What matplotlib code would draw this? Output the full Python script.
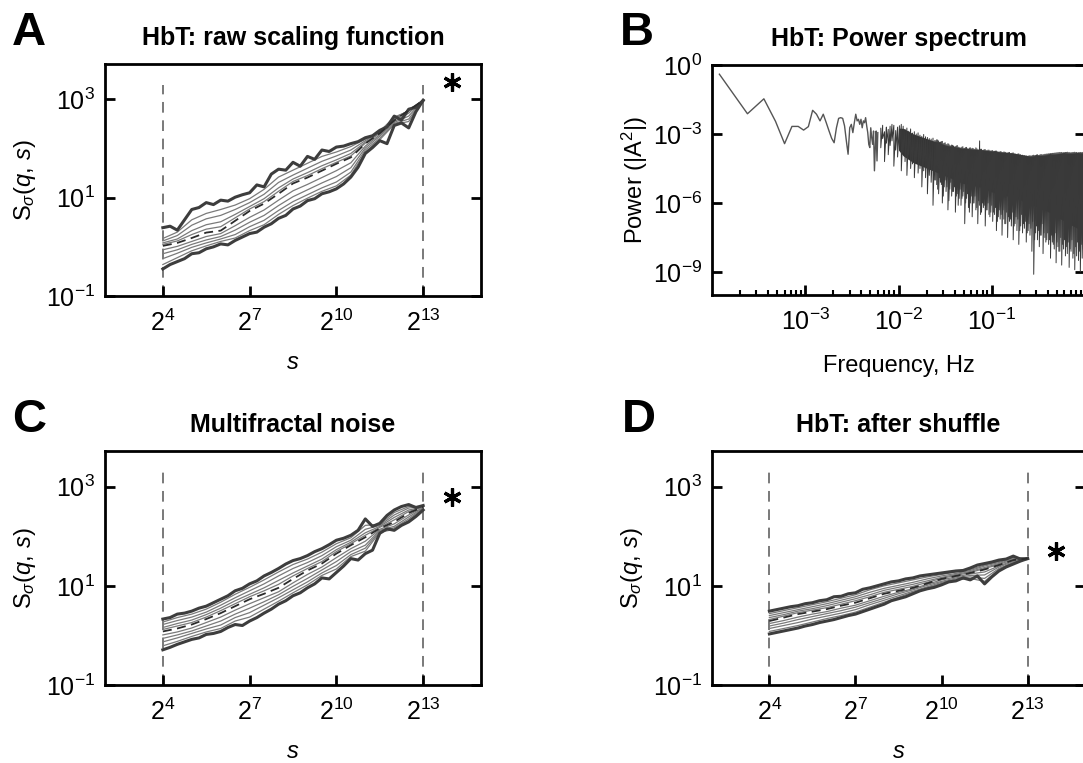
import numpy as np
import matplotlib.pyplot as plt
from matplotlib.ticker import NullLocator, FixedLocator

plt.rcParams['font.family'] = ['Liberation Sans', 'DejaVu Sans']
plt.rcParams['mathtext.fontset'] = 'custom'
plt.rcParams['mathtext.rm'] = 'Liberation Sans'
plt.rcParams['mathtext.it'] = 'Liberation Sans:italic'
plt.rcParams['mathtext.bf'] = 'Liberation Sans:bold'

# ---- scaling functions: s = 2**exp, values are log10 S(q, s) ----
# outer curves (q = +5 / -5) read at quarter-octave steps
fine_exp = [4, 4.25, 4.5, 4.75, 5, 5.25, 5.5, 5.75, 6, 6.25, 6.5, 6.75, 7, 7.25, 7.5, 7.75,
            8, 8.25, 8.5, 8.75, 9, 9.25, 9.5, 9.75, 10, 10.25, 10.5, 10.75, 11, 11.25,
            11.5, 11.75, 12, 12.25, 12.5, 12.75, 13]
# inner curves (q = 4 ... -4) read at half-octave steps
scale_exp = [4, 4.5, 5, 5.5, 6, 6.5, 7, 7.5, 8, 8.5, 9, 9.5, 10, 10.5, 11, 11.5, 12, 12.5, 13]
inner_q = [4, 3, 2, 1, 0, -1, -2, -3, -4]

raw_top = [0.39, 0.42, 0.34, 0.55, 0.76, 0.80, 0.90, 0.86, 0.95, 0.93, 1.01, 1.06, 1.10, 1.26,
           1.22, 1.48, 1.58, 1.56, 1.72, 1.64, 1.84, 1.78, 1.97, 1.94, 2.03, 2.05, 2.10, 2.14,
           2.22, 2.26, 2.37, 2.44, 2.66, 2.58, 2.80, 2.84, 2.98]
raw_bottom = [-0.45, -0.36, -0.30, -0.24, -0.14, -0.12, -0.04, 0.00, 0.06, 0.04, 0.13, 0.20, 0.27,
              0.30, 0.40, 0.47, 0.58, 0.64, 0.77, 0.83, 0.94, 0.98, 1.08, 1.12, 1.18, 1.28, 1.42,
              1.62, 1.90, 2.02, 2.16, 2.10, 2.47, 2.52, 2.42, 2.75, 2.98]
raw_inner = [
    [0.17, 0.30, 0.55, 0.68, 0.76, 0.85, 0.98, 1.17, 1.42, 1.56, 1.70, 1.84, 1.93, 2.04, 2.19, 2.35, 2.64, 2.76, 2.98],
    [0.12, 0.23, 0.44, 0.57, 0.64, 0.76, 0.90, 1.07, 1.31, 1.46, 1.60, 1.74, 1.85, 1.97, 2.16, 2.34, 2.62, 2.77, 2.98],
    [0.08, 0.16, 0.33, 0.45, 0.51, 0.66, 0.82, 0.98, 1.20, 1.38, 1.51, 1.65, 1.77, 1.90, 2.13, 2.32, 2.60, 2.77, 2.98],
    [0.05, 0.12, 0.25, 0.36, 0.41, 0.59, 0.77, 0.92, 1.13, 1.33, 1.45, 1.59, 1.72, 1.85, 2.11, 2.31, 2.58, 2.78, 2.98],
    [0.02, 0.08, 0.18, 0.29, 0.33, 0.53, 0.73, 0.88, 1.08, 1.29, 1.41, 1.55, 1.69, 1.82, 2.10, 2.31, 2.57, 2.78, 2.98],
    [-0.06, 0.01, 0.11, 0.21, 0.27, 0.43, 0.60, 0.75, 0.95, 1.14, 1.27, 1.41, 1.55, 1.71, 2.05, 2.28, 2.55, 2.72, 2.98],
    [-0.14, -0.06, 0.05, 0.14, 0.21, 0.34, 0.50, 0.64, 0.84, 1.02, 1.16, 1.30, 1.43, 1.61, 2.01, 2.25, 2.53, 2.66, 2.98],
    [-0.24, -0.13, -0.01, 0.08, 0.16, 0.25, 0.41, 0.54, 0.74, 0.92, 1.06, 1.20, 1.32, 1.52, 1.97, 2.21, 2.51, 2.60, 2.98],
    [-0.36, -0.22, -0.08, 0.02, 0.11, 0.18, 0.33, 0.45, 0.66, 0.84, 0.99, 1.13, 1.24, 1.46, 1.93, 2.18, 2.49, 2.55, 2.98],
]

noise_top = [0.33, 0.36, 0.43, 0.45, 0.49, 0.55, 0.59, 0.66, 0.73, 0.80, 0.90, 0.95, 1.04, 1.10,
             1.20, 1.27, 1.35, 1.44, 1.51, 1.55, 1.61, 1.69, 1.75, 1.83, 1.92, 1.96, 2.02, 2.12,
             2.35, 2.20, 2.26, 2.42, 2.53, 2.60, 2.64, 2.58, 2.62]
noise_bottom = [-0.29, -0.24, -0.18, -0.13, -0.08, -0.05, 0.02, 0.04, 0.08, 0.16, 0.22, 0.20, 0.29,
                0.36, 0.45, 0.53, 0.63, 0.70, 0.80, 0.86, 0.96, 1.04, 1.16, 1.14, 1.27, 1.40, 1.55,
                1.52, 1.65, 1.72, 2.06, 2.15, 2.12, 2.22, 2.29, 2.40, 2.53]
noise_inner = [
    [0.27, 0.36, 0.43, 0.53, 0.67, 0.83, 0.97, 1.12, 1.28, 1.43, 1.54, 1.68, 1.85, 1.97, 2.22, 2.24, 2.48, 2.60, 2.60],
    [0.22, 0.30, 0.37, 0.47, 0.61, 0.76, 0.90, 1.04, 1.20, 1.35, 1.47, 1.61, 1.79, 1.92, 2.14, 2.22, 2.43, 2.57, 2.60],
    [0.16, 0.24, 0.31, 0.42, 0.55, 0.70, 0.83, 0.96, 1.11, 1.26, 1.40, 1.54, 1.73, 1.88, 2.07, 2.20, 2.38, 2.53, 2.59],
    [0.12, 0.19, 0.26, 0.37, 0.50, 0.64, 0.78, 0.90, 1.03, 1.20, 1.35, 1.49, 1.69, 1.85, 2.02, 2.18, 2.33, 2.50, 2.59],
    [0.08, 0.14, 0.22, 0.33, 0.45, 0.59, 0.73, 0.84, 0.96, 1.14, 1.31, 1.45, 1.65, 1.82, 1.98, 2.16, 2.29, 2.47, 2.59],
    [0.01, 0.07, 0.15, 0.26, 0.37, 0.51, 0.64, 0.76, 0.88, 1.06, 1.23, 1.38, 1.57, 1.75, 1.90, 2.14, 2.25, 2.43, 2.58],
    [-0.06, 0.01, 0.09, 0.19, 0.29, 0.43, 0.55, 0.68, 0.82, 0.99, 1.15, 1.32, 1.49, 1.69, 1.82, 2.12, 2.20, 2.39, 2.57],
    [-0.13, -0.05, 0.04, 0.13, 0.21, 0.36, 0.46, 0.61, 0.76, 0.92, 1.08, 1.26, 1.41, 1.63, 1.76, 2.10, 2.17, 2.35, 2.56],
    [-0.21, -0.12, -0.02, 0.07, 0.14, 0.29, 0.37, 0.53, 0.69, 0.86, 1.02, 1.21, 1.34, 1.59, 1.70, 2.08, 2.14, 2.32, 2.55],
]

shuffle_top = [0.49, 0.52, 0.55, 0.58, 0.60, 0.64, 0.66, 0.70, 0.72, 0.78, 0.79, 0.84, 0.86, 0.93,
               0.96, 1.00, 1.04, 1.08, 1.10, 1.14, 1.16, 1.20, 1.22, 1.24, 1.26, 1.28, 1.30, 1.31,
               1.36, 1.42, 1.45, 1.48, 1.52, 1.54, 1.60, 1.54, 1.55]
shuffle_bottom = [0.03, 0.06, 0.09, 0.12, 0.15, 0.19, 0.22, 0.26, 0.29, 0.32, 0.36, 0.40, 0.43, 0.48,
                  0.53, 0.58, 0.63, 0.70, 0.74, 0.78, 0.84, 0.90, 0.94, 0.97, 1.02, 1.08, 1.10, 1.16,
                  1.12, 1.20, 1.04, 1.18, 1.30, 1.38, 1.44, 1.50, 1.55]
shuffle_inner = [
    [0.44, 0.50, 0.56, 0.62, 0.68, 0.75, 0.82, 0.92, 1.00, 1.06, 1.12, 1.18, 1.23, 1.28, 1.33, 1.42, 1.49, 1.58, 1.55],
    [0.40, 0.46, 0.52, 0.58, 0.64, 0.71, 0.78, 0.87, 0.95, 1.01, 1.07, 1.14, 1.20, 1.25, 1.31, 1.40, 1.47, 1.57, 1.55],
    [0.36, 0.42, 0.49, 0.54, 0.60, 0.67, 0.74, 0.82, 0.91, 0.97, 1.03, 1.10, 1.17, 1.23, 1.29, 1.37, 1.45, 1.55, 1.55],
    [0.32, 0.39, 0.46, 0.51, 0.56, 0.63, 0.70, 0.78, 0.87, 0.93, 0.99, 1.07, 1.15, 1.21, 1.27, 1.35, 1.43, 1.53, 1.55],
    [0.29, 0.36, 0.43, 0.48, 0.53, 0.60, 0.66, 0.75, 0.84, 0.90, 0.96, 1.05, 1.14, 1.20, 1.26, 1.33, 1.42, 1.52, 1.55],
    [0.24, 0.30, 0.37, 0.43, 0.48, 0.55, 0.61, 0.70, 0.79, 0.87, 0.94, 1.03, 1.12, 1.18, 1.24, 1.28, 1.40, 1.51, 1.55],
    [0.19, 0.25, 0.32, 0.38, 0.44, 0.50, 0.57, 0.66, 0.75, 0.84, 0.92, 1.01, 1.09, 1.16, 1.21, 1.22, 1.38, 1.49, 1.55],
    [0.14, 0.20, 0.26, 0.33, 0.39, 0.45, 0.52, 0.62, 0.71, 0.80, 0.89, 0.98, 1.07, 1.14, 1.18, 1.15, 1.35, 1.47, 1.55],
    [0.08, 0.14, 0.20, 0.27, 0.34, 0.40, 0.47, 0.57, 0.67, 0.77, 0.87, 0.96, 1.05, 1.12, 1.15, 1.09, 1.33, 1.46, 1.55],
]

# significance asterisks (s, S)
star_raw = (2**14, 10**3.35)
star_noise = (2**14, 10**2.8)
star_shuffle = (2**14, 10**1.71)

# ---- power spectrum ----
df = 1.2e-4  # frequency resolution, Hz
low_bins = list(range(1, 51))
low_logP = [-0.40, -2.12, -1.47, -2.45, -3.42, -2.67, -2.67, -2.83, -2.68, -1.97,
            -2.14, -2.43, -2.14, -2.51, -2.87, -3.19, -3.38, -2.73, -2.32, -2.29,
            -2.32, -2.65, -3.30, -3.88, -2.73, -2.58, -2.94, -2.51, -2.14, -2.43,
            -2.36, -2.58, -2.36, -2.73, -2.43, -2.51, -2.29, -2.65, -2.94, -3.45,
            -3.59, -2.73, -3.16, -3.45, -2.87, -4.60, -3.59, -2.87, -4.17, -2.94]

spike_logf = [-2.19, -2.17, -2.15, -2.13, -2.11, -2.09, -2.07, -2.05, -2.03, -2.01,
              -1.99, -1.97, -1.95, -1.93, -1.91, -1.89, -1.87, -1.85, -1.83, -1.81,
              -1.79, -1.77, -1.75, -1.73, -1.71, -1.69, -1.67, -1.65, -1.63, -1.61,
              -1.59, -1.57, -1.55, -1.53, -1.51, -1.49, -1.47, -1.45, -1.43, -1.41,
              -1.39, -1.37, -1.35, -1.33, -1.31, -1.29, -1.27, -1.25, -1.23, -1.21,
              -1.19, -1.17, -1.15, -1.13, -1.11, -1.09, -1.07, -1.05, -1.03, -1.01,
              -0.99, -0.97, -0.95, -0.93, -0.91, -0.89, -0.87, -0.85, -0.83, -0.81,
              -0.79, -0.77, -0.75, -0.73, -0.71, -0.69, -0.67, -0.65, -0.63, -0.61,
              -0.59, -0.57, -0.55, -0.53, -0.51, -0.49, -0.47, -0.45, -0.43, -0.41,
              -0.39, -0.37, -0.35, -0.33, -0.31, -0.29, -0.27, -0.25, -0.23, -0.21,
              -0.19, -0.17, -0.15, -0.13, -0.11, -0.09, -0.07, -0.05, -0.03, -0.01]
spike_top = [-2.75, -2.62, -2.90, -2.70, -2.80, -2.66, -2.58, -2.62, -2.85, -2.70,
             -2.64, -2.58, -2.66, -2.80, -2.74, -2.88, -2.78, -2.96, -2.90, -3.00,
             -2.95, -3.05, -3.10, -3.02, -3.12, -3.15, -3.20, -3.22, -3.18, -3.28,
             -3.25, -3.30, -3.35, -3.32, -3.40, -3.45, -3.42, -3.50, -3.48, -3.52,
             -3.55, -3.50, -3.58, -3.60, -3.55, -3.62, -3.58, -3.65, -3.60, -3.62,
             -3.66, -3.60, -3.68, -3.30, -3.66, -3.70, -3.68, -3.72, -3.70, -3.74,
             -3.72, -3.75, -3.74, -3.78, -3.76, -3.80, -3.78, -3.80, -3.82, -3.80,
             -3.84, -3.82, -3.86, -3.88, -3.86, -3.90, -3.92, -3.94, -3.95, -3.96,
             -3.94, -3.95, -3.92, -3.93, -3.90, -3.92, -3.89, -3.90, -3.88, -3.87,
             -3.86, -3.85, -3.84, -3.83, -3.82, -3.81, -3.80, -3.80, -3.81, -3.80,
             -3.79, -3.80, -3.81, -3.80, -3.79, -3.80, -3.81, -3.80, -3.80, -3.79]
spike_bottom = [-3.6, -3.2, -4.2, -3.4, -3.9, -3.5, -3.3, -4.4, -3.7, -4.0,
                -3.5, -4.6, -3.8, -4.2, -4.8, -3.9, -4.5, -4.3, -4.9, -4.2,
                -4.7, -4.5, -5.3, -4.6, -4.9, -5.6, -4.8, -5.1, -6.1, -5.0,
                -5.2, -5.6, -5.1, -6.0, -5.3, -5.5, -6.3, -5.4, -5.7, -5.5,
                -6.4, -5.6, -5.8, -6.1, -5.7, -6.9, -5.8, -6.2, -6.0, -6.6,
                -6.0, -6.3, -6.9, -6.1, -6.4, -6.2, -7.0, -6.3, -6.5, -6.4,
                -6.8, -6.5, -7.2, -6.6, -6.7, -7.4, -6.7, -6.9, -7.5, -6.8,
                -7.0, -7.6, -6.9, -7.2, -7.8, -7.0, -7.3, -7.1, -7.7, -7.2,
                -7.4, -8.1, -9.1, -7.3, -7.6, -7.9, -7.4, -8.2, -7.5, -7.6,
                -7.8, -8.4, -7.7, -8.0, -8.6, -7.9, -8.1, -8.7, -8.0, -8.3,
                -8.2, -8.8, -8.1, -8.4, -8.9, -8.3, -8.5, -9.0, -8.4, -8.6]

# further bins between the ones above, where the band gets dense
extra_logf = [-1.60, -1.58, -1.56, -1.54, -1.52, -1.50, -1.48, -1.46, -1.44, -1.42,
              -1.40, -1.38, -1.36, -1.34, -1.32, -1.30, -1.28, -1.26, -1.24, -1.22,
              -1.20, -1.18, -1.16, -1.14, -1.12, -1.10, -1.08, -1.06, -1.04, -1.02,
              -1.00, -0.98, -0.96, -0.94, -0.92, -0.90, -0.88, -0.86, -0.84, -0.82,
              -0.80, -0.78, -0.76, -0.74, -0.72, -0.70, -0.68, -0.66, -0.64, -0.62,
              -0.60, -0.58, -0.56, -0.54, -0.52, -0.50, -0.48, -0.46, -0.44, -0.42,
              -0.40, -0.38, -0.36, -0.34, -0.32, -0.30, -0.28, -0.26, -0.24, -0.22,
              -0.20, -0.18, -0.16, -0.14, -0.12, -0.10, -0.08, -0.06, -0.04, -0.02]
extra_top = [-3.30, -3.26, -3.36, -3.33, -3.42, -3.38, -3.47, -3.44, -3.52, -3.49,
             -3.56, -3.52, -3.57, -3.61, -3.57, -3.63, -3.59, -3.64, -3.61, -3.65,
             -3.63, -3.67, -3.64, -3.69, -3.66, -3.71, -3.68, -3.72, -3.70, -3.73,
             -3.73, -3.76, -3.74, -3.77, -3.79, -3.77, -3.81, -3.79, -3.83, -3.81,
             -3.85, -3.83, -3.87, -3.89, -3.87, -3.91, -3.93, -3.95, -3.96, -3.97,
             -3.95, -3.96, -3.93, -3.94, -3.91, -3.93, -3.90, -3.91, -3.89, -3.88,
             -3.87, -3.86, -3.85, -3.84, -3.83, -3.82, -3.81, -3.81, -3.82, -3.81,
             -3.80, -3.81, -3.82, -3.81, -3.80, -3.81, -3.82, -3.81, -3.81, -3.80]
extra_bottom = [-5.0, -5.4, -4.9, -5.2, -5.7, -5.0, -5.3, -5.9, -5.1, -5.5,
                -5.3, -5.7, -6.1, -5.4, -5.8, -5.5, -6.0, -5.6, -6.4, -5.7,
                -6.0, -5.7, -6.2, -5.9, -6.5, -6.0, -6.1, -6.3, -6.0, -6.6,
                -6.1, -6.4, -6.2, -6.8, -6.3, -6.5, -6.3, -6.9, -6.4, -6.6,
                -6.7, -6.4, -7.0, -6.6, -6.7, -7.2, -6.5, -6.9, -6.8, -7.3,
                -6.9, -7.1, -6.8, -7.6, -7.0, -7.2, -7.4, -6.9, -7.3, -7.7,
                -7.3, -7.6, -7.4, -7.8, -7.3, -7.7, -8.1, -7.5, -7.8, -7.6,
                -7.9, -7.7, -8.0, -7.6, -8.2, -7.9, -7.7, -8.1, -7.8, -8.0]

# solid core of the high-frequency band
core_logf = [-2.00, -1.95, -1.84, -1.66, -1.48, -1.31, -1.13, -0.95, -0.77, -0.59, -0.41, -0.24, -0.06, 0.05]
core_top = [-2.75, -2.75, -3.00, -3.25, -3.50, -3.62, -3.68, -3.76, -3.83, -3.96, -3.90, -3.83, -3.82, -3.82]
core_bottom = [-3.70, -3.95, -4.25, -4.55, -4.85, -5.15, -5.30, -5.60, -5.75, -6.05, -6.35, -6.75, -7.15, -7.40]

TICK_FS = 18
LABEL_FS = 17
TITLE_FS = 18


def style_axes(ax):
    for sp in ax.spines.values():
        sp.set_linewidth(2.0)
    ax.tick_params(which='major', direction='in', length=7, width=2.0,
                   labelsize=TICK_FS, right=True, top=False)
    ax.tick_params(axis='y', which='major', pad=7)
    ax.tick_params(axis='x', which='major', pad=10)
    ax.tick_params(which='minor', direction='in', length=3.5, width=1.5,
                   right=False, top=False)


def draw_scaling(ax, top, bottom, inner, star, title):
    s_fine = 2.0 ** np.array(fine_exp)
    s = 2.0 ** np.array(scale_exp)
    for q, logS in zip(inner_q, inner):
        S = 10.0 ** np.array(logS)
        if q == 0:
            ax.plot(s, S, color='#2b2b2b', lw=1.3, dashes=(5, 3), zorder=4)
        else:
            ax.plot(s, S, color='#7a7a7a', lw=0.9, zorder=2)
    for logS in (top, bottom):
        ax.plot(s_fine, 10.0 ** np.array(logS), color='#3d3d3d', lw=2.2, zorder=3)
    ax.vlines([2**4, 2**13], 0.1, 2000, colors='#555555', lw=1.1,
              linestyles=(0, (7, 5)), zorder=1)
    ax.plot([star[0]], [star[1]], marker=(6, 2, 0), ms=13, mew=2.3,
            color='black', ls='none', clip_on=False)

    ax.set_xscale('log', base=2)
    ax.set_yscale('log')
    ax.set_xlim(2**2, 2**15)
    ax.set_ylim(0.1, 10**3.72)
    ax.xaxis.set_major_locator(FixedLocator([2**4, 2**7, 2**10, 2**13]))
    ax.xaxis.set_minor_locator(NullLocator())
    ax.set_xticklabels([r'$2^{4}$', r'$2^{7}$', r'$2^{10}$', r'$2^{13}$'])
    ax.yaxis.set_major_locator(FixedLocator([0.1, 10, 1000]))
    ax.yaxis.set_minor_locator(NullLocator())
    ax.set_yticklabels([r'$10^{-1}$', r'$10^{1}$', r'$10^{3}$'])
    style_axes(ax)
    ax.set_xlabel(r'$s$', fontsize=LABEL_FS, labelpad=11)
    ax.set_ylabel(r'$\mathrm{S}_{\sigma}(q,\,s)$', fontsize=LABEL_FS, labelpad=6)
    ax.set_title(title, fontsize=TITLE_FS, fontweight='bold', pad=14)


fig = plt.figure(figsize=(10.83, 7.63), dpi=100)
W, H = 1083.0, 763.0


def add_axes(left, top, right, bottom):
    return fig.add_axes([left / W, 1 - bottom / H, (right - left) / W, (bottom - top) / H])


axA = add_axes(105, 64, 481, 296)
axB = add_axes(712, 65, 1085, 295)
axC = add_axes(105, 451, 481, 685)
axD = add_axes(712, 451, 1085, 685)

draw_scaling(axA, raw_top, raw_bottom, raw_inner, star_raw, 'HbT: raw scaling function')
draw_scaling(axC, noise_top, noise_bottom, noise_inner, star_noise, 'Multifractal noise')
draw_scaling(axD, shuffle_top, shuffle_bottom, shuffle_inner, star_shuffle, 'HbT: after shuffle')

# power spectrum
f_low = np.array(low_bins) * df
axB.plot(f_low, 10.0 ** np.array(low_logP), color='#555555', lw=1.0)
axB.fill_between(10.0 ** np.array(core_logf), 10.0 ** np.array(core_bottom),
                 10.0 ** np.array(core_top), color='#333333', lw=0, zorder=1)
# zigzag through each bin's peak and trough
for lf, top, bot in [(spike_logf, spike_top, spike_bottom),
                     (extra_logf, extra_top, extra_bottom)]:
    f_sp = 10.0 ** np.repeat(lf, 2)
    p_sp = 10.0 ** np.column_stack([top, bot]).ravel()
    axB.plot(f_sp, p_sp, color='#3a3a3a', lw=0.7, zorder=2)
axB.set_xscale('log')
axB.set_yscale('log')
axB.set_xlim(1e-4, 1e0)
axB.set_ylim(1e-10, 1e0)
axB.xaxis.set_major_locator(FixedLocator([1e-3, 1e-2, 1e-1, 1e0]))
axB.set_xticklabels([r'$10^{-3}$', r'$10^{-2}$', r'$10^{-1}$', ''])
axB.yaxis.set_major_locator(FixedLocator([1e-9, 1e-6, 1e-3, 1e0]))
axB.yaxis.set_minor_locator(NullLocator())
axB.set_yticklabels([r'$10^{-9}$', r'$10^{-6}$', r'$10^{-3}$', r'$10^{0}$'])
style_axes(axB)
axB.set_xlabel('Frequency, Hz', fontsize=LABEL_FS, labelpad=14)
axB.set_ylabel(r'Power ($|\mathrm{A}^{2}|$)', fontsize=LABEL_FS, labelpad=2)
axB.set_title('HbT: Power spectrum', fontsize=TITLE_FS, fontweight='bold', pad=14)

# panel letters
for letter, x, y in [('A', 12, 45), ('B', 620, 45), ('C', 12, 432), ('D', 622, 432)]:
    fig.text(x / W, 1 - y / H, letter, fontsize=34, fontweight='bold', va='baseline')

fig.savefig('out.png', dpi=100)
